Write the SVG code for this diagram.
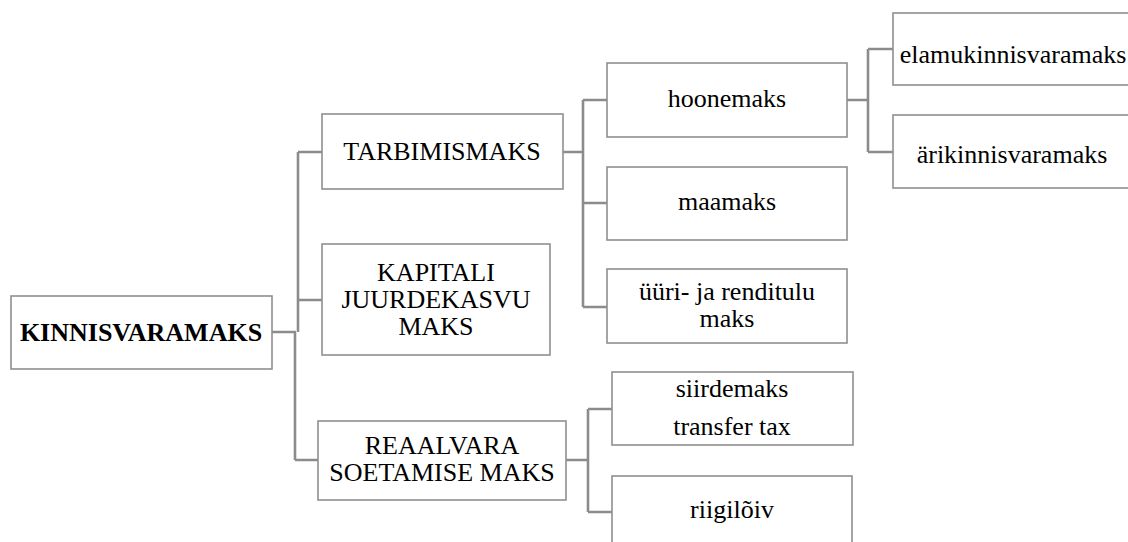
<svg xmlns="http://www.w3.org/2000/svg" width="1128" height="542" viewBox="0 0 1128 542">
<style>
.box{fill:#fff;stroke:#8f8f8f;stroke-width:1.6}
.c{fill:none;stroke:#8c8c8c;stroke-width:2.6}
text{font-size:26px;fill:#000;text-anchor:middle}
.b{font-weight:bold}
</style>
<rect width="1128" height="542" fill="#fff"/>
<g id="connectors">
<path class="c" d="M272 332 H296 M298 152 V332 M295 332 V460 M298 152 H322 M298 300 H322 M295 460 H318"/>
<path class="c" d="M563 152 H583 M583 100 V307 M583 100 H607 M583 203 H607 M583 307 H607"/>
<path class="c" d="M847 100 H868 M868 49 V152 M868 49 H893 M868 152 H893"/>
<path class="c" d="M566 460 H588 M588 409 V512 M588 409 H612 M588 512 H612"/>
</g>
<g font-family="Liberation Serif, Tinos, Times New Roman, serif">
<g id="kinnisvaramaks"><rect class="box" x="11" y="296" width="261" height="73"/><text class="b" x="141" y="341">KINNISVARAMAKS</text></g>
<g id="tarbimismaks"><rect class="box" x="322" y="114" width="241" height="75"/><text x="442" y="160">TARBIMISMAKS</text></g>
<g id="kapitali"><rect class="box" x="322" y="244" width="228" height="111"/><text x="436" y="281">KAPITALI</text><text x="436" y="308">JUURDEKASVU</text><text x="436" y="335">MAKS</text></g>
<g id="reaalvara"><rect class="box" x="318" y="421" width="248" height="79"/><text x="442" y="454">REAALVARA</text><text x="442" y="481">SOETAMISE MAKS</text></g>
<g id="hoonemaks"><rect class="box" x="607" y="63" width="240" height="74"/><text x="727" y="107">hoonemaks</text></g>
<g id="maamaks"><rect class="box" x="607" y="167" width="240" height="73"/><text x="727" y="210">maamaks</text></g>
<g id="yyri"><rect class="box" x="607" y="269" width="240" height="74"/><text x="727" y="300">üüri- ja renditulu</text><text x="727" y="327">maks</text></g>
<g id="elamu"><rect class="box" x="893" y="13" width="245" height="72"/><text x="1013" y="63">elamukinnisvaramaks</text></g>
<g id="ari"><rect class="box" x="893" y="115" width="245" height="73"/><text x="1012" y="163">ärikinnisvaramaks</text></g>
<g id="siirdemaks"><rect class="box" x="612" y="372" width="241" height="73"/><text x="732" y="397">siirdemaks</text><text x="732" y="435">transfer tax</text></g>
<g id="riigiloiv"><rect class="box" x="612" y="476" width="240" height="80"/><text x="732" y="518">riigilõiv</text></g>
</g>
</svg>
